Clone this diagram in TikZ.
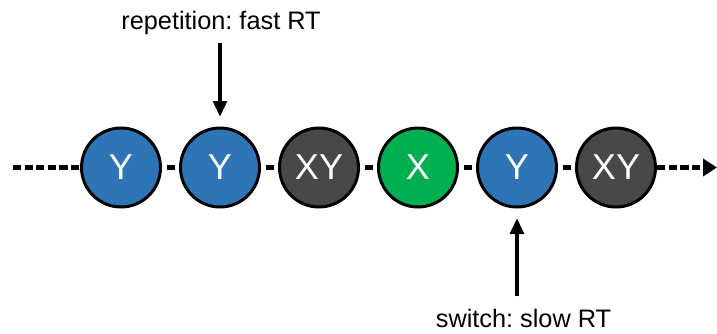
\documentclass[tikz,border=0pt]{standalone}
\usepackage{fontspec}
\setmainfont{Liberation Sans}
\usepackage{xcolor}
\usetikzlibrary{arrows.meta, positioning}
\frenchspacing

\definecolor{yblue}{RGB}{46,117,182}
\definecolor{xygray}{RGB}{72,72,72}
\definecolor{xgreen}{RGB}{0,176,80}

\begin{document}
\begin{tikzpicture}[
    trial/.style={circle, draw=black, line width=0.06cm, minimum size=1.58cm,
                  inner sep=0pt, text=white, font=\fontsize{20.5pt}{23pt}\selectfont},
    ytr/.style={trial, fill=yblue},
    xtr/.style={trial, fill=xgreen},
    xytr/.style={trial, fill=xygray},
    flow/.style={line width=0.09cm, dash pattern=on 0.166cm off 0.066cm},
    link/.style={line width=0.09cm, shorten <=0.09cm, shorten >=0.09cm},
    cue/.style={line width=0.09cm, -{Triangle[length=0.32cm, width=0.27cm]}},
    note/.style={font=\fontsize{14.4pt}{16pt}\selectfont},
]
\useasboundingbox (0,-3.31) rectangle (14.34,3.35);

% trial sequence
\node[ytr]  (y1)  at (2.42,0)  {Y};
\node[ytr]  (y2)  at (4.40,0)  {Y};
\node[xytr] (xy1) at (6.38,0)  {XY};
\node[xtr]  (x1)  at (8.36,0)  {X};
\node[ytr]  (y3)  at (10.34,0) {Y};
\node[xytr] (xy2) at (12.32,0) {XY};

\coordinate (start) at (0.26,0);
\coordinate (stop) at (14.34,0);

\draw[flow] (start) -- (y1);
\draw[link] (y1) -- (y2);
\draw[link] (y2) -- (xy1);
\draw[link] (xy1) -- (x1);
\draw[link] (x1) -- (y3);
\draw[link] (y3) -- (xy2);
\draw[flow, -{Triangle[length=0.28cm, width=0.34cm]}] (xy2) -- (stop);

% labels
\node[note] (rep) at (4.42,2.89) {repetition: fast RT};
\node[note] (sw) at (10.47,-3.01) {switch: slow RT};

\draw[cue, shorten <=0.03cm, shorten >=0.19cm] (rep.south -| y2) -- (y2);
\draw[cue, shorten <=0.13cm, shorten >=0.19cm] (sw.north -| y3) -- (y3);
\end{tikzpicture}
\end{document}
